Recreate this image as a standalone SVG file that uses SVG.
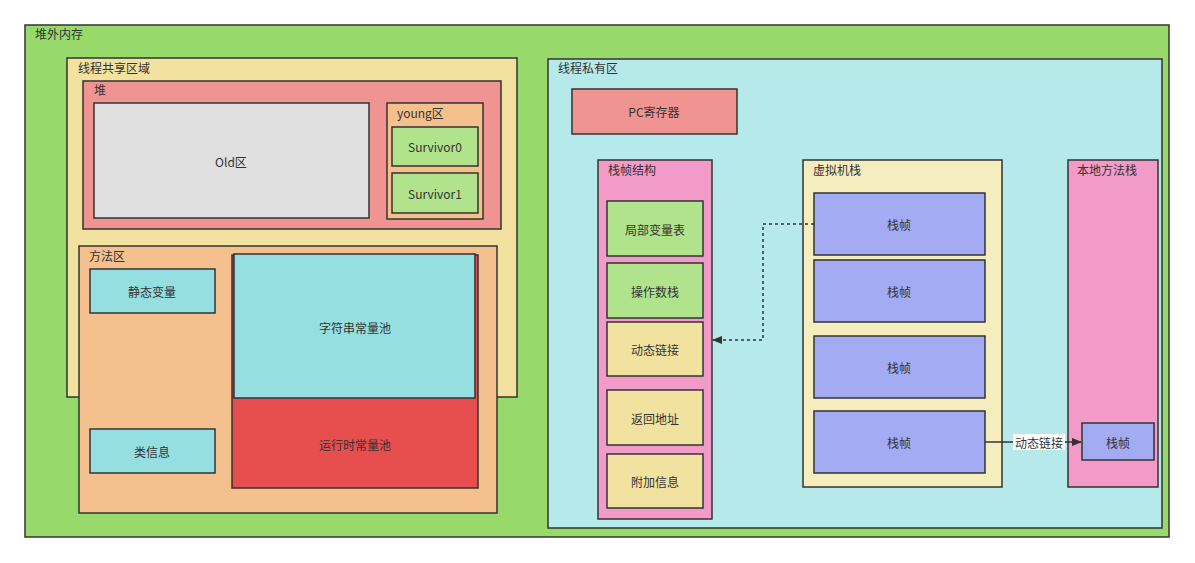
<svg xmlns="http://www.w3.org/2000/svg" width="1195" height="563" viewBox="0 0 1195 563">
<style>
text{font-family:"Noto Sans CJK SC","Liberation Sans",sans-serif;font-size:12px;fill:#333;}
.c{text-anchor:middle;dominant-baseline:central;}
rect{stroke:#333;stroke-width:1.5;}
rect.bg{stroke:none;fill:#ffffff;}
.conn{stroke:#333;stroke-width:1.5;fill:none;}
</style>
<defs>
<marker id="ah" markerWidth="10" markerHeight="8" refX="9" refY="4" orient="auto" markerUnits="userSpaceOnUse">
<path d="M0,0 L10,4 L0,8 Z" fill="#333"/>
</marker>
</defs>
<rect class="bg" width="1195" height="563"/>
<g id="offheap"><rect x="25" y="25" width="1144" height="512" fill="#97d96a" stroke-width="2"/><text x="35" y="33" dominant-baseline="central">堆外内存</text></g>
<g id="shared"><rect x="67" y="58" width="450" height="339" fill="#f1e2a0" stroke-width="2"/><text x="78" y="67" dominant-baseline="central">线程共享区域</text></g>
<g id="heap"><rect x="83" y="81" width="418" height="148" fill="#f09492"/><text x="94" y="89" dominant-baseline="central">堆</text></g>
<g id="old"><rect x="94" y="103" width="275" height="115" fill="#e0e0e0"/><text class="c" x="231" y="161">Old区</text></g>
<g id="young"><rect x="387" y="103" width="96" height="116" fill="#f4c08c"/><text x="397" y="112" dominant-baseline="central">young区</text></g>
<g id="s0"><rect x="392" y="127" width="86" height="39" fill="#b0e38c"/><text class="c" x="435" y="146">Survivor0</text></g>
<g id="s1"><rect x="392" y="173" width="86" height="40" fill="#b0e38c"/><text class="c" x="435" y="193">Survivor1</text></g>
<g id="method"><rect x="79" y="246" width="418" height="267" fill="#f4c08e"/><text x="89" y="255" dominant-baseline="central">方法区</text></g>
<g id="static"><rect x="90" y="269" width="125" height="44" fill="#95dfe1"/><text class="c" x="152" y="291">静态变量</text></g>
<g id="classinfo"><rect x="90" y="429" width="125" height="44" fill="#95dfe1"/><text class="c" x="152" y="451">类信息</text></g>
<g id="runtimepool"><rect x="232" y="255" width="246" height="233" fill="#e74f4f"/><text class="c" x="355" y="444">运行时常量池</text></g>
<g id="stringpool"><rect x="234" y="254" width="241" height="144" fill="#95dfe1"/><text class="c" x="355" y="327">字符串常量池</text></g>
<g id="private"><rect x="548" y="59" width="614" height="469" fill="#b6eaea" stroke-width="2"/><text x="558" y="67" dominant-baseline="central">线程私有区</text></g>
<g id="pc"><rect x="572" y="89" width="165" height="45" fill="#f09492"/><text class="c" x="654" y="111">PC寄存器</text></g>
<g id="framestruct"><rect x="598" y="160" width="114" height="359" fill="#f29ac8"/><text x="608" y="169" dominant-baseline="central">栈帧结构</text></g>
<g id="localvars"><rect x="607" y="201" width="96" height="55" fill="#b0e38c"/><text class="c" x="655" y="229">局部变量表</text></g>
<g id="operand"><rect x="607" y="263" width="96" height="55" fill="#b0e38c"/><text class="c" x="655" y="291">操作数栈</text></g>
<g id="dynlink"><rect x="607" y="322" width="96" height="54" fill="#f1e2a0"/><text class="c" x="655" y="349">动态链接</text></g>
<g id="retaddr"><rect x="607" y="390" width="96" height="55" fill="#f1e2a0"/><text class="c" x="655" y="418">返回地址</text></g>
<g id="extra"><rect x="607" y="454" width="96" height="54" fill="#f1e2a0"/><text class="c" x="655" y="481">附加信息</text></g>
<g id="jvmstack"><rect x="803" y="160" width="199" height="327" fill="#f6edbf"/><text x="813" y="169" dominant-baseline="central">虚拟机栈</text></g>
<g id="frame1"><rect x="814" y="193" width="171" height="62" fill="#a3acf3"/><text class="c" x="899" y="224">栈帧</text></g>
<g id="frame2"><rect x="814" y="260" width="171" height="62" fill="#a3acf3"/><text class="c" x="899" y="291">栈帧</text></g>
<g id="frame3"><rect x="814" y="336" width="171" height="62" fill="#a3acf3"/><text class="c" x="899" y="367">栈帧</text></g>
<g id="frame4"><rect x="814" y="411" width="171" height="62" fill="#a3acf3"/><text class="c" x="899" y="442">栈帧</text></g>
<g id="nativestack"><rect x="1068" y="160" width="90" height="327" fill="#f29ac8"/><text x="1077" y="169" dominant-baseline="central">本地方法栈</text></g>
<g id="nativeframe"><rect x="1082" y="423" width="72" height="37" fill="#a3acf3"/><text class="c" x="1118" y="442">栈帧</text></g>
<g id="connectors">
<path class="conn" d="M814,224 H763 V340 H713" stroke-dasharray="3,3" marker-end="url(#ah)"/>
<path class="conn" d="M985,442 H1081" marker-end="url(#ah)"/>
<rect class="bg" x="1013" y="434" width="52" height="16"/>
<text class="c" x="1039" y="442">动态链接</text>
</g>
</svg>
